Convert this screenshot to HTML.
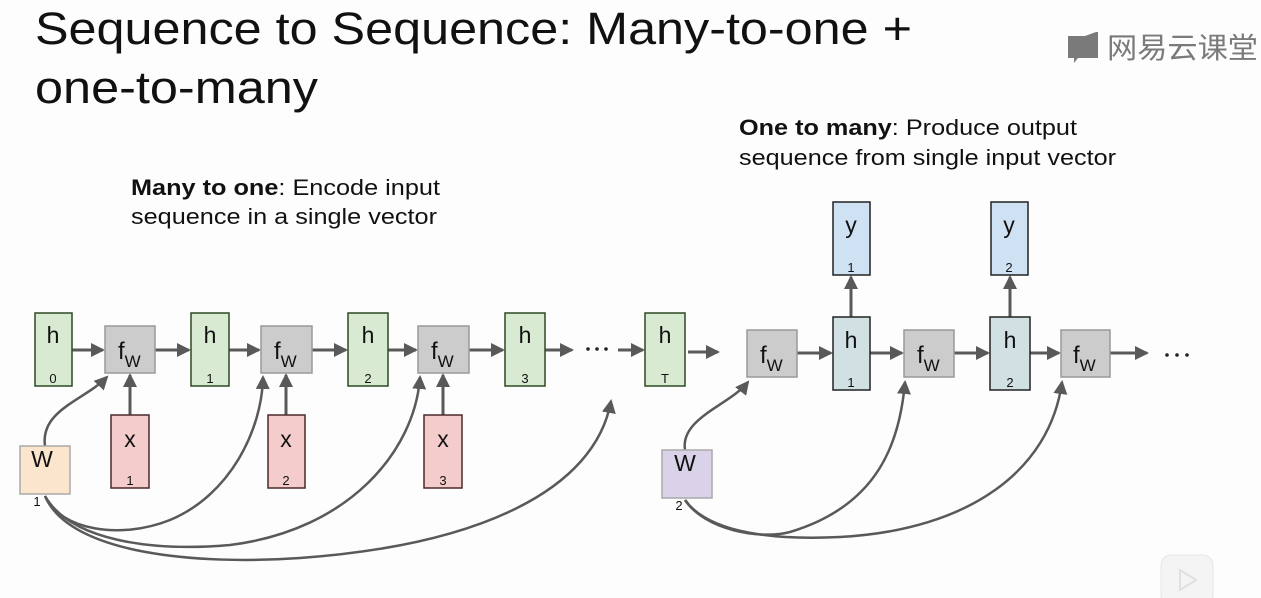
<!DOCTYPE html>
<html><head><meta charset="utf-8"><style>
html,body{margin:0;padding:0;background:#fff;}
svg{display:block;}
text{font-family:"Liberation Sans",Arial,sans-serif;fill:#111;}
</style></head><body>
<svg width="1261" height="598" viewBox="0 0 1261 598" xmlns="http://www.w3.org/2000/svg">
<defs>
<marker id="b" markerWidth="14" markerHeight="14" refX="12" refY="7" orient="auto" markerUnits="userSpaceOnUse">
<path d="M0,0 L14,7 L0,14 z" fill="#595959"/></marker>
</defs>
<rect width="1261" height="598" fill="#fdfdfd"/>
<text x="35" y="44" font-size="45" textLength="877" lengthAdjust="spacingAndGlyphs">Sequence to Sequence: Many-to-one +</text>
<text x="35" y="103" font-size="45" textLength="283" lengthAdjust="spacingAndGlyphs">one-to-many</text>

<g fill="#7a7a7a">
<path d="M1068,36 L1085,36 L1096,32 L1098,32 L1098,58 L1078,58 L1074,63 L1074,58 L1068,58 z"/>
</g>
<text x="1107" y="58" font-size="29" style="fill:#7a7a7a;font-family:'Liberation Sans','Noto Sans CJK SC',sans-serif" textLength="151" lengthAdjust="spacingAndGlyphs">网易云课堂</text>

<text x="131" y="195" font-size="22" textLength="309" lengthAdjust="spacingAndGlyphs"><tspan font-weight="bold">Many to one</tspan>: Encode input</text>
<text x="131" y="224" font-size="22" textLength="306" lengthAdjust="spacingAndGlyphs">sequence in a single vector</text>
<text x="739" y="135" font-size="22" textLength="338" lengthAdjust="spacingAndGlyphs"><tspan font-weight="bold">One to many</tspan>: Produce output</text>
<text x="739" y="165" font-size="22" textLength="377" lengthAdjust="spacingAndGlyphs">sequence from single input vector</text>

<g stroke="#595959" stroke-width="3" fill="none">
<line x1="72" y1="350" x2="103" y2="350" marker-end="url(#b)"/>
<line x1="155" y1="350" x2="189" y2="350" marker-end="url(#b)"/>
<line x1="229" y1="350" x2="259" y2="350" marker-end="url(#b)"/>
<line x1="312" y1="350" x2="346" y2="350" marker-end="url(#b)"/>
<line x1="388" y1="350" x2="416" y2="350" marker-end="url(#b)"/>
<line x1="469" y1="350" x2="503" y2="350" marker-end="url(#b)"/>
<line x1="545" y1="350" x2="572" y2="350" marker-end="url(#b)"/>
<line x1="618" y1="350" x2="643" y2="350" marker-end="url(#b)"/>
<line x1="688" y1="352" x2="718" y2="352" marker-end="url(#b)"/>
<line x1="130" y1="415" x2="130" y2="375" marker-end="url(#b)"/>
<line x1="286" y1="415" x2="286" y2="375" marker-end="url(#b)"/>
<line x1="443" y1="415" x2="443" y2="375" marker-end="url(#b)"/>
<line x1="797" y1="353" x2="831" y2="353" marker-end="url(#b)"/>
<line x1="870" y1="353" x2="902" y2="353" marker-end="url(#b)"/>
<line x1="954" y1="353" x2="988" y2="353" marker-end="url(#b)"/>
<line x1="1030" y1="353" x2="1059" y2="353" marker-end="url(#b)"/>
<line x1="1110" y1="353" x2="1147" y2="353" marker-end="url(#b)"/>
<line x1="851" y1="317" x2="851" y2="277" marker-end="url(#b)"/>
<line x1="1010" y1="317" x2="1010" y2="277" marker-end="url(#b)"/>
<path d="M45,446 C40,410 85,400 107,377" marker-end="url(#b)" stroke-width="2.5"/>
<path d="M45,496 C60,530 120,540 170,520 C230,495 262,430 263,377" marker-end="url(#b)" stroke-width="2.5"/>
<path d="M45,496 C70,540 150,552 230,545 C350,530 415,450 420,377" marker-end="url(#b)" stroke-width="2.5"/>
<path d="M45,496 C70,555 200,565 300,558 C480,545 595,490 611,401" marker-end="url(#b)" stroke-width="2.5"/>
<path d="M685,450 C680,418 730,405 748,382" marker-end="url(#b)" stroke-width="2.5"/>
<path d="M685,500 C705,530 760,540 790,532 C880,505 900,440 905,382" marker-end="url(#b)" stroke-width="2.5"/>
<path d="M685,500 C710,535 780,540 840,537 C970,530 1050,470 1062,382" marker-end="url(#b)" stroke-width="2.5"/>
</g>
<g fill="#222">
<circle cx="588" cy="349" r="1.8"/><circle cx="597" cy="349" r="1.8"/><circle cx="606" cy="349" r="1.8"/>
<circle cx="1167" cy="355" r="1.8"/><circle cx="1177" cy="355" r="1.8"/><circle cx="1187" cy="355" r="1.8"/>
</g>

<g stroke-width="1.5">
<rect x="35" y="313" width="37" height="73" fill="#d9ead3" stroke="#2d4a22"/>
<rect x="191" y="313" width="38" height="73" fill="#d9ead3" stroke="#2d4a22"/>
<rect x="348" y="313" width="40" height="73" fill="#d9ead3" stroke="#2d4a22"/>
<rect x="505" y="313" width="40" height="73" fill="#d9ead3" stroke="#2d4a22"/>
<rect x="645" y="313" width="40" height="73" fill="#d9ead3" stroke="#2d4a22"/>
<rect x="105" y="326" width="50" height="47" fill="#cccccc" stroke="#999"/>
<rect x="261" y="326" width="51" height="47" fill="#cccccc" stroke="#999"/>
<rect x="418" y="326" width="51" height="47" fill="#cccccc" stroke="#999"/>
<rect x="111" y="415" width="38" height="73" fill="#f4cccc" stroke="#4a2a2a"/>
<rect x="268" y="415" width="37" height="73" fill="#f4cccc" stroke="#4a2a2a"/>
<rect x="424" y="415" width="38" height="73" fill="#f4cccc" stroke="#4a2a2a"/>
<rect x="20" y="446" width="50" height="48" fill="#fce5cd" stroke="#aaa"/>
<rect x="747" y="330" width="50" height="47" fill="#cccccc" stroke="#999"/>
<rect x="904" y="330" width="50" height="47" fill="#cccccc" stroke="#999"/>
<rect x="1061" y="330" width="49" height="47" fill="#cccccc" stroke="#999"/>
<rect x="833" y="317" width="37" height="73" fill="#d0e0e3" stroke="#222"/>
<rect x="990" y="317" width="40" height="73" fill="#d0e0e3" stroke="#222"/>
<rect x="833" y="202" width="37" height="73" fill="#cfe2f3" stroke="#222"/>
<rect x="991" y="202" width="37" height="73" fill="#cfe2f3" stroke="#222"/>
<rect x="662" y="450" width="50" height="48" fill="#d9d2e9" stroke="#aaa"/>
</g>

<g font-size="23" text-anchor="middle">
<text x="53" y="343">h</text><text x="210" y="343">h</text><text x="368" y="343">h</text><text x="525" y="343">h</text><text x="665" y="343">h</text>
<text x="851" y="348">h</text><text x="1010" y="348">h</text>
<text x="851" y="233">y</text><text x="1009" y="233">y</text>
<text x="130" y="447">x</text><text x="286" y="447">x</text><text x="443" y="447">x</text>
<text x="42" y="467">W</text><text x="685" y="471">W</text>
</g>
<g font-size="13" text-anchor="middle">
<text x="53" y="383">0</text><text x="210" y="383">1</text><text x="368" y="383">2</text><text x="525" y="383">3</text><text x="665" y="383">T</text>
<text x="851" y="387">1</text><text x="1010" y="387">2</text>
<text x="851" y="272">1</text><text x="1009" y="272">2</text>
<text x="130" y="485">1</text><text x="286" y="485">2</text><text x="443" y="485">3</text>
<text x="37" y="506">1</text><text x="679" y="510">2</text>
</g>
<g font-size="24">
<text x="118" y="359">f<tspan font-size="17" dy="8">W</tspan></text>
<text x="274" y="359">f<tspan font-size="17" dy="8">W</tspan></text>
<text x="431" y="359">f<tspan font-size="17" dy="8">W</tspan></text>
<text x="760" y="363">f<tspan font-size="17" dy="8">W</tspan></text>
<text x="917" y="363">f<tspan font-size="17" dy="8">W</tspan></text>
<text x="1073" y="363">f<tspan font-size="17" dy="8">W</tspan></text>
</g>
<rect x="1161" y="555" width="52" height="50" rx="10" fill="#f4f4f4" stroke="#e6e6e6"/>
<path d="M1180,570 L1196,580 L1180,590 z" fill="none" stroke="#e0e0e0" stroke-width="2"/>
</svg>
</body></html>
